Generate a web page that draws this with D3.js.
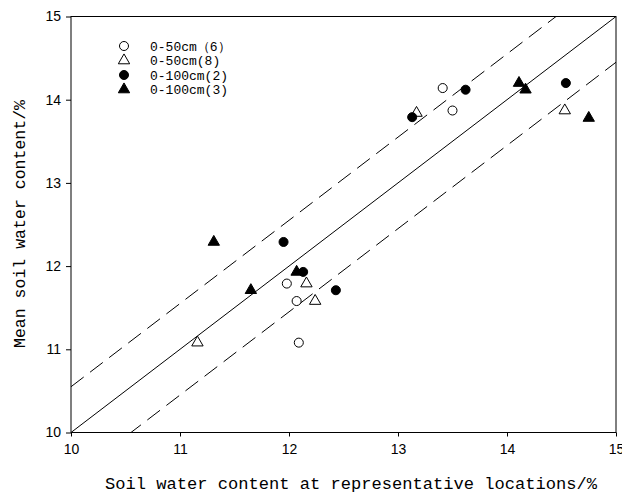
<!DOCTYPE html>
<html><head><meta charset="utf-8">
<script src="https://cdn.jsdelivr.net/npm/d3@7"></script>
<style>body{margin:0;background:#fff}</style>
</head><body>
<svg id="c" width="622" height="497"></svg>
<script>
const xTicks = [10, 11, 12, 13, 14, 15];
const yTicks = [10, 11, 12, 13, 14, 15];
const seriesNames = ["0-50cm（6）", "0-50cm(8)", "0-100cm(2)", "0-100cm(3)"];
const open50_6 = [[11.98, 11.79], [12.07, 11.58], [12.09, 11.08], [13.41, 14.14], [13.50, 13.87]];
const open50_8 = [[11.16, 11.08], [12.16, 11.79], [12.24, 11.58], [13.17, 13.84], [14.53, 13.87]];
const fill100_2 = [[11.95, 12.29], [12.13, 11.93], [12.43, 11.71], [13.13, 13.79], [13.62, 14.12], [14.54, 14.20]];
const fill100_3 = [[11.31, 12.29], [12.07, 11.93], [11.65, 11.71], [14.11, 14.20], [14.17, 14.12], [14.75, 13.78]];
const lineOffsets = [0, 0.55, -0.55];

const svg = d3.select("#c");
const L = 71, R = 616, T = 16.5, B = 432.5;
const x = d3.scaleLinear().domain([10, 15]).range([L, R]);
const y = d3.scaleLinear().domain([10, 15]).range([B, T]);

svg.append("clipPath").attr("id", "clip").append("rect")
  .attr("x", L).attr("y", T).attr("width", R - L).attr("height", B - T);

const lineG = svg.append("g").attr("clip-path", "url(#clip)");
lineOffsets.forEach(o => {
  lineG.append("line")
    .attr("x1", x(10)).attr("y1", y(10 + o))
    .attr("x2", x(15)).attr("y2", y(15 + o))
    .attr("stroke", "#000").attr("stroke-width", 1)
    .attr("stroke-dasharray", o === 0 ? null : "16,8");
});

svg.append("rect").attr("x", L).attr("y", T).attr("width", R - L).attr("height", B - T)
  .attr("fill", "none").attr("stroke", "#000").attr("stroke-width", 1);

const xAxis = svg.append("g").attr("transform", `translate(0,${B})`)
  .call(d3.axisBottom(x).tickValues(xTicks).tickSize(4).tickPadding(8).tickFormat(d3.format("d")));
const yAxis = svg.append("g").attr("transform", `translate(${L},0)`)
  .call(d3.axisLeft(y).tickValues(yTicks).tickSize(5).tickPadding(5).tickFormat(d3.format("d")));
[xAxis, yAxis].forEach(a => {
  a.selectAll("path").remove();
  a.selectAll("line").attr("stroke", "#000");
  a.selectAll("text").attr("font-family", "Liberation Sans, Arial, sans-serif")
    .attr("font-size", 14).attr("fill", "#000");
});

const circ = d3.symbol().type(d3.symbolCircle).size(64);
const tri = d3.symbol().type(d3.symbolTriangle).size(56);
const styles = [
  {data: open50_6, sym: circ, fill: "#fff"},
  {data: open50_8, sym: tri, fill: "#fff"},
  {data: fill100_2, sym: circ, fill: "#000"},
  {data: fill100_3, sym: tri, fill: "#000"}
];
styles.forEach(s => {
  svg.append("g").selectAll("path").data(s.data).join("path")
    .attr("d", s.sym)
    .attr("transform", d => `translate(${x(d[0])},${y(d[1])})`)
    .attr("fill", s.fill).attr("stroke", "#000").attr("stroke-width", 1);
});

const lg = svg.append("g").attr("transform", "translate(124,46)");
seriesNames.forEach((n, i) => {
  const row = lg.append("g").attr("transform", `translate(0,${i * 14.5})`);
  row.append("path").attr("d", styles[i].sym)
    .attr("fill", styles[i].fill).attr("stroke", "#000").attr("stroke-width", 1);
  row.append("text").attr("x", 26).attr("y", 0).attr("dy", "0.35em")
    .attr("font-family", "Liberation Mono, monospace").attr("font-size", 13)
    .attr("fill", "#000").text(n);
});

svg.append("text").attr("x", 351).attr("y", 489)
  .attr("text-anchor", "middle")
  .attr("font-family", "Liberation Mono, monospace").attr("font-size", 16)
  .attr("textLength", 492).attr("lengthAdjust", "spacingAndGlyphs")
  .attr("fill", "#000").text("Soil water content at representative locations/%");
svg.append("text").attr("transform", "translate(25,224) rotate(-90)")
  .attr("text-anchor", "middle")
  .attr("font-family", "Liberation Mono, monospace").attr("font-size", 16)
  .attr("textLength", 248).attr("lengthAdjust", "spacingAndGlyphs")
  .attr("fill", "#000").text("Mean soil water content/%");
</script>
</body></html>
